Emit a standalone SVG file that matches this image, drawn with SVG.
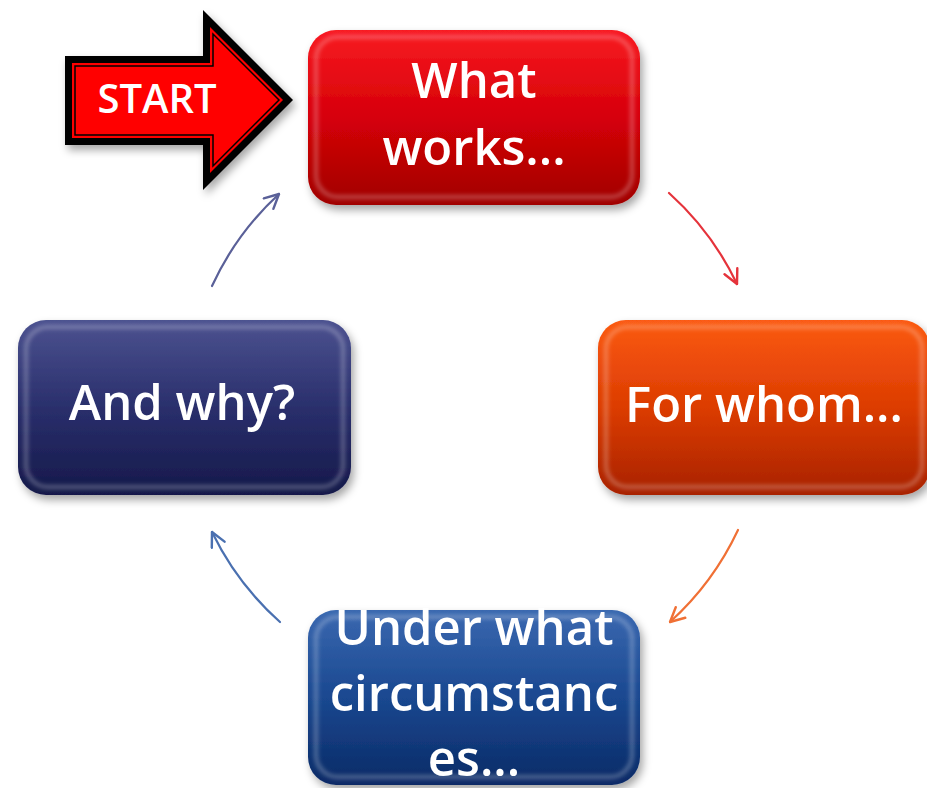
<svg xmlns="http://www.w3.org/2000/svg" width="927" height="788" viewBox="0 0 927 788">
<defs>
<style>
.lbl{font-family:"Open Sans","DejaVu Sans",sans-serif;font-weight:600;font-size:49px;fill:#fff;text-anchor:middle}
.conn{fill:none;stroke-width:2.2;stroke-linecap:round}
.bev{fill:none;stroke:#fff;stroke-opacity:0.28;stroke-width:4}
.ah{fill:none;stroke-width:1.7;stroke-linecap:round;stroke-linejoin:round}
</style>
<filter id="sh" x="-10%" y="-10%" width="125%" height="130%"><feDropShadow dx="3" dy="5" stdDeviation="4" flood-color="#000" flood-opacity="0.35"/></filter>
<filter id="bl" x="-5%" y="-5%" width="110%" height="110%"><feGaussianBlur stdDeviation="2"/></filter>
<linearGradient id="gRed" x1="0" y1="0" x2="0" y2="1"><stop offset="0" stop-color="#f81a22"/><stop offset="0.5" stop-color="#d60008"/><stop offset="1" stop-color="#a00000"/></linearGradient>
<linearGradient id="gOr" x1="0" y1="0" x2="0" y2="1"><stop offset="0" stop-color="#fb5a12"/><stop offset="0.5" stop-color="#dc3c02"/><stop offset="1" stop-color="#a82200"/></linearGradient>
<linearGradient id="gBl" x1="0" y1="0" x2="0" y2="1"><stop offset="0" stop-color="#3a68b0"/><stop offset="0.5" stop-color="#1a4890"/><stop offset="1" stop-color="#0a2a66"/></linearGradient>
<linearGradient id="gNv" x1="0" y1="0" x2="0" y2="1"><stop offset="0" stop-color="#4c5290"/><stop offset="0.5" stop-color="#2a2f6c"/><stop offset="1" stop-color="#15194a"/></linearGradient>
<marker id="mR" viewBox="0 0 12 12" refX="11" refY="6" markerWidth="17" markerHeight="17" markerUnits="userSpaceOnUse" orient="auto"><path class="ah" d="M1,1 L11,6 L1,11" stroke="#e5333b"/></marker>
<marker id="mO" viewBox="0 0 12 12" refX="11" refY="6" markerWidth="17" markerHeight="17" markerUnits="userSpaceOnUse" orient="auto"><path class="ah" d="M1,1 L11,6 L1,11" stroke="#f07035"/></marker>
<marker id="mB" viewBox="0 0 12 12" refX="11" refY="6" markerWidth="17" markerHeight="17" markerUnits="userSpaceOnUse" orient="auto"><path class="ah" d="M1,1 L11,6 L1,11" stroke="#4a70b0"/></marker>
<marker id="mP" viewBox="0 0 12 12" refX="11" refY="6" markerWidth="17" markerHeight="17" markerUnits="userSpaceOnUse" orient="auto"><path class="ah" d="M1,1 L11,6 L1,11" stroke="#5a6098"/></marker>
</defs>
<rect width="927" height="788" fill="#fff"/>

<g id="connectors">
<path class="conn" stroke="#e5333b" d="M669,193 A290,290 0 0 1 737,284" marker-end="url(#mR)"/>
<path class="conn" stroke="#f07035" d="M738,530 A290,290 0 0 1 670,622" marker-end="url(#mO)"/>
<path class="conn" stroke="#4a70b0" d="M280,622 A290,290 0 0 1 212,532" marker-end="url(#mB)"/>
<path class="conn" stroke="#5a6098" d="M212,286 A290,290 0 0 1 279,194" marker-end="url(#mP)"/>
</g>

<g id="start">
<g filter="url(#sh)">
<polygon points="65,56 203,56 203,10 293,100 203,190 203,145 65,145" fill="#000"/>
</g>
<polygon points="72,63 210,63 210,27 283,100 210,173 210,138 72,138" fill="#f00"/>
<polygon points="75,66 213,66 213,34 279,100 213,166 213,135 75,135" fill="#f00" stroke="#000" stroke-width="1.5"/>
<text x="157" y="113" font-family="'Open Sans','DejaVu Sans',sans-serif" font-weight="600" font-size="40" fill="#fff" text-anchor="middle">START</text>
</g>

<g id="n1">
<rect x="308" y="30" width="332" height="175" rx="28" fill="url(#gRed)" filter="url(#sh)"/>
<rect x="316" y="37" width="316" height="160" rx="22" class="bev" filter="url(#bl)"/>
<text class="lbl" x="474" y="98">What</text>
<text class="lbl" x="474" y="165">works...</text>
</g>

<g id="n2">
<rect x="598" y="320" width="332" height="175" rx="28" fill="url(#gOr)" filter="url(#sh)"/>
<rect x="606" y="327" width="316" height="160" rx="22" class="bev" filter="url(#bl)"/>
<text class="lbl" x="764" y="422">For whom...</text>
</g>

<g id="n3">
<rect x="308" y="610" width="332" height="175" rx="28" fill="url(#gBl)" filter="url(#sh)"/>
<rect x="316" y="617" width="316" height="160" rx="22" class="bev" filter="url(#bl)"/>
<text class="lbl" x="474" y="645">Under what</text>
<text class="lbl" x="474" y="711">circumstanc</text>
<text class="lbl" x="474" y="776">es...</text>
</g>

<g id="n4">
<rect x="18" y="320" width="333" height="175" rx="28" fill="url(#gNv)" filter="url(#sh)"/>
<rect x="26" y="327" width="317" height="160" rx="22" class="bev" filter="url(#bl)"/>
<text class="lbl" x="182" y="420">And why?</text>
</g>
</svg>
